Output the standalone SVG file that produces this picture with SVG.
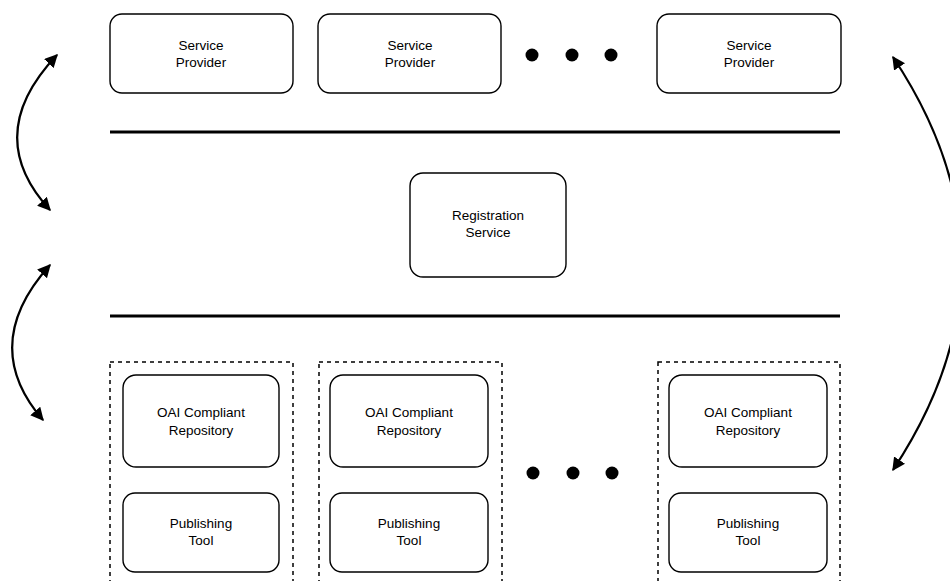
<svg xmlns="http://www.w3.org/2000/svg" width="950" height="581" viewBox="0 0 950 581">
<style>
.box{fill:#fff;stroke:#000;stroke-width:1.4}
.grp{fill:none;stroke:#000;stroke-width:1.5;stroke-dasharray:4 4}
.bar{stroke:#000;stroke-width:3}
.t{font-family:"Liberation Sans",Arial,sans-serif;font-size:13.5px;text-anchor:middle;fill:#000}
.arc{fill:none;stroke:#000;stroke-width:2.2}
.dot{fill:#000}
</style>
<defs>
<marker id="ah" viewBox="0 0 10 10" refX="9" refY="5" markerWidth="6" markerHeight="6" orient="auto-start-reverse" markerUnits="strokeWidth">
<path d="M0,0 L10,5 L0,10 z" fill="#000"/>
</marker>
</defs>
<rect width="950" height="581" fill="#fff"/>

<g id="sp1"><rect class="box" x="110" y="14" width="183" height="79" rx="12"/><text class="t" x="201" y="50">Service</text><text class="t" x="201" y="67">Provider</text></g>
<g id="sp2"><rect class="box" x="318" y="14" width="183" height="79" rx="12"/><text class="t" x="410" y="50">Service</text><text class="t" x="410" y="67">Provider</text></g>
<g id="sp3"><rect class="box" x="657" y="14" width="184" height="79" rx="12"/><text class="t" x="749" y="50">Service</text><text class="t" x="749" y="67">Provider</text></g>
<g id="dots-top"><circle class="dot" cx="532" cy="55" r="6.5"/><circle class="dot" cx="572" cy="55" r="6.5"/><circle class="dot" cx="611" cy="55" r="6.5"/></g>

<line class="bar" x1="110" y1="132" x2="840" y2="132"/>
<line class="bar" x1="110" y1="316" x2="840" y2="316"/>

<g id="reg"><rect class="box" x="410" y="173" width="156" height="104" rx="13"/><text class="t" x="488" y="220">Registration</text><text class="t" x="488" y="237">Service</text></g>

<g id="repo-group-1">
<rect class="grp" x="110" y="362" width="183" height="240"/>
<g id="oai1"><rect class="box" x="123" y="375" width="156" height="92" rx="13"/><text class="t" x="201" y="417">OAI Compliant</text><text class="t" x="201" y="435">Repository</text></g>
<g id="pub1"><rect class="box" x="123" y="493" width="156" height="79" rx="12"/><text class="t" x="201" y="528">Publishing</text><text class="t" x="201" y="545">Tool</text></g>
</g>
<g id="repo-group-2">
<rect class="grp" x="319" y="362" width="183" height="240"/>
<g id="oai2"><rect class="box" x="330" y="375" width="158" height="92" rx="13"/><text class="t" x="409" y="417">OAI Compliant</text><text class="t" x="409" y="435">Repository</text></g>
<g id="pub2"><rect class="box" x="330" y="493" width="158" height="79" rx="12"/><text class="t" x="409" y="528">Publishing</text><text class="t" x="409" y="545">Tool</text></g>
</g>
<g id="dots-bottom"><circle class="dot" cx="533" cy="473" r="6.5"/><circle class="dot" cx="573" cy="473" r="6.5"/><circle class="dot" cx="612" cy="473" r="6.5"/></g>
<g id="repo-group-3">
<rect class="grp" x="658" y="362" width="182" height="240"/>
<g id="oai3"><rect class="box" x="669" y="375" width="158" height="92" rx="13"/><text class="t" x="748" y="417">OAI Compliant</text><text class="t" x="748" y="435">Repository</text></g>
<g id="pub3"><rect class="box" x="669" y="493" width="158" height="79" rx="12"/><text class="t" x="748" y="528">Publishing</text><text class="t" x="748" y="545">Tool</text></g>
</g>

<g id="connectors">
<path class="arc" d="M57,55 Q-19,135 50,210" marker-start="url(#ah)" marker-end="url(#ah)"/>
<path class="arc" d="M50,265 Q-22,345 43,420" marker-start="url(#ah)" marker-end="url(#ah)"/>
<path class="arc" d="M893,57 Q1030,263 893,470" marker-start="url(#ah)" marker-end="url(#ah)"/>
</g>
</svg>
